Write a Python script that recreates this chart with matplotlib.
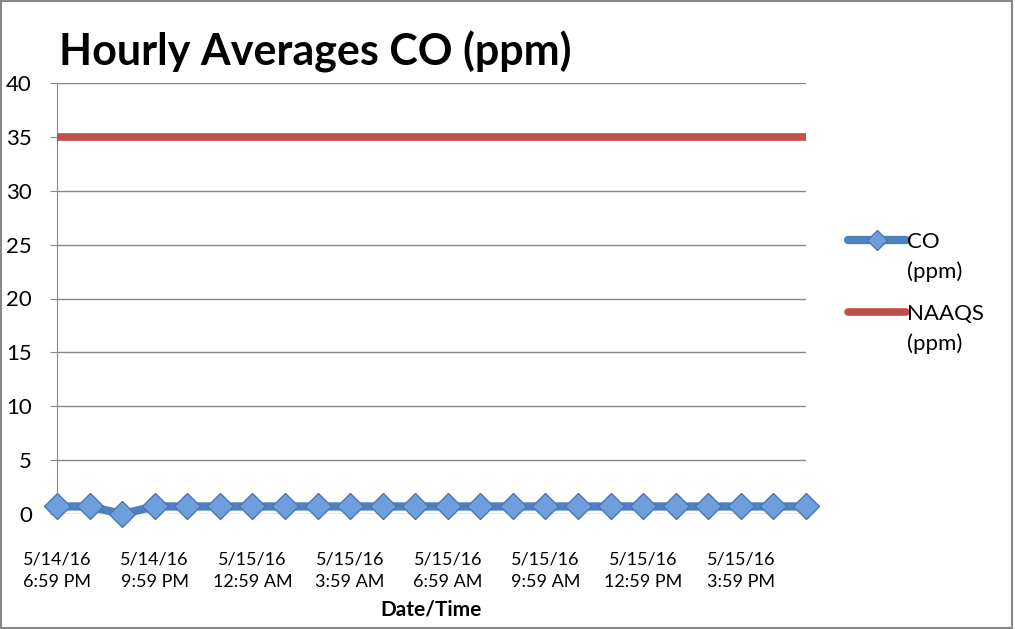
import numpy as np
import matplotlib.pyplot as plt
from matplotlib.patches import Rectangle
from matplotlib.legend_handler import HandlerLine2D

# hourly CO readings, 5/14/16 6:59 PM through 5/15/16 5:59 PM
times = ["5/14/16\n6:59 PM", "5/14/16\n7:59 PM", "5/14/16\n8:59 PM",
         "5/14/16\n9:59 PM", "5/14/16\n10:59 PM", "5/14/16\n11:59 PM",
         "5/15/16\n12:59 AM", "5/15/16\n1:59 AM", "5/15/16\n2:59 AM",
         "5/15/16\n3:59 AM", "5/15/16\n4:59 AM", "5/15/16\n5:59 AM",
         "5/15/16\n6:59 AM", "5/15/16\n7:59 AM", "5/15/16\n8:59 AM",
         "5/15/16\n9:59 AM", "5/15/16\n10:59 AM", "5/15/16\n11:59 AM",
         "5/15/16\n12:59 PM", "5/15/16\n1:59 PM", "5/15/16\n2:59 PM",
         "5/15/16\n3:59 PM", "5/15/16\n4:59 PM", "5/15/16\n5:59 PM"]
co = [0.7, 0.7, 0.0, 0.7, 0.7, 0.7, 0.7, 0.7, 0.7, 0.7, 0.7, 0.7,
      0.7, 0.7, 0.7, 0.7, 0.7, 0.7, 0.7, 0.7, 0.7, 0.7, 0.7, 0.7]
naaqs = [35] * len(times)


class TopLineHandler(HandlerLine2D):
    # put the legend line next to the first text line, like Excel does
    def create_artists(self, legend, orig_handle, xdescent, ydescent,
                       width, height, fontsize, trans):
        arts = super().create_artists(legend, orig_handle, xdescent, ydescent,
                                      width, height, fontsize, trans)
        for a in arts:
            a.set_ydata(np.asarray(a.get_ydata()) + 0.78 * fontsize)
        return arts


plt.rcParams['font.family'] = ['Lato', 'DejaVu Sans']

fig = plt.figure(figsize=(10.15, 6.29), dpi=100)
ax = fig.add_axes([57 / 1015, 1 - 514 / 629, (806 - 57) / 1015, (514 - 83) / 629])

x = list(range(len(times)))
ax.plot(x, naaqs, color='#C0504D', linewidth=5.5, solid_capstyle='round',
        label='NAAQS\n(ppm)', zorder=3)
ax.plot(x, co, color='#4F81BD', linewidth=6, marker='D', markersize=13,
        markerfacecolor='#6E9FDC', markeredgecolor='#4A76B3', markeredgewidth=1,
        solid_capstyle='round', label='CO\n(ppm)', zorder=4, clip_on=False)

ax.set_xlim(0, len(times) - 1)
ax.set_ylim(0, 40)
ax.set_yticks(range(0, 41, 5))
ax.set_xticks(x[::3])
ax.set_xticklabels(times[::3], fontsize=13, linespacing=1.5)
ax.tick_params(axis='y', labelsize=16, length=5, color='#888888', pad=13)
ax.tick_params(axis='x', length=0, pad=27)
ax.grid(axis='y', color='#888888', linewidth=1)
ax.set_axisbelow(True)
for s in ['top', 'right', 'bottom']:
    ax.spines[s].set_visible(False)
ax.spines['left'].set_color('#888888')

ax.set_xlabel("Date/Time", fontsize=15, fontweight='bold', labelpad=7)
fig.text(59 / 1015, 1 - 52 / 629, "Hourly Averages CO (ppm)", fontsize=31,
         fontweight='bold', va='center', ha='left')

handles, labels = ax.get_legend_handles_labels()
leg = ax.legend(handles[::-1], labels[::-1], loc='upper left',
                bbox_to_anchor=(828 / 1015, 1 - 212 / 629), bbox_transform=fig.transFigure,
                frameon=False, fontsize=16, handlelength=2.6, handletextpad=0.05,
                labelspacing=1.0, markerscale=0.75,
                handler_map={h: TopLineHandler() for h in handles})
for t in leg.get_texts():
    t.set_linespacing(1.55)

fig.patches.append(Rectangle((0.001, 0.002), 0.996, 0.996, transform=fig.transFigure,
                             fill=False, edgecolor='#888888', linewidth=1.5))

plt.savefig("out.png", dpi=100)
